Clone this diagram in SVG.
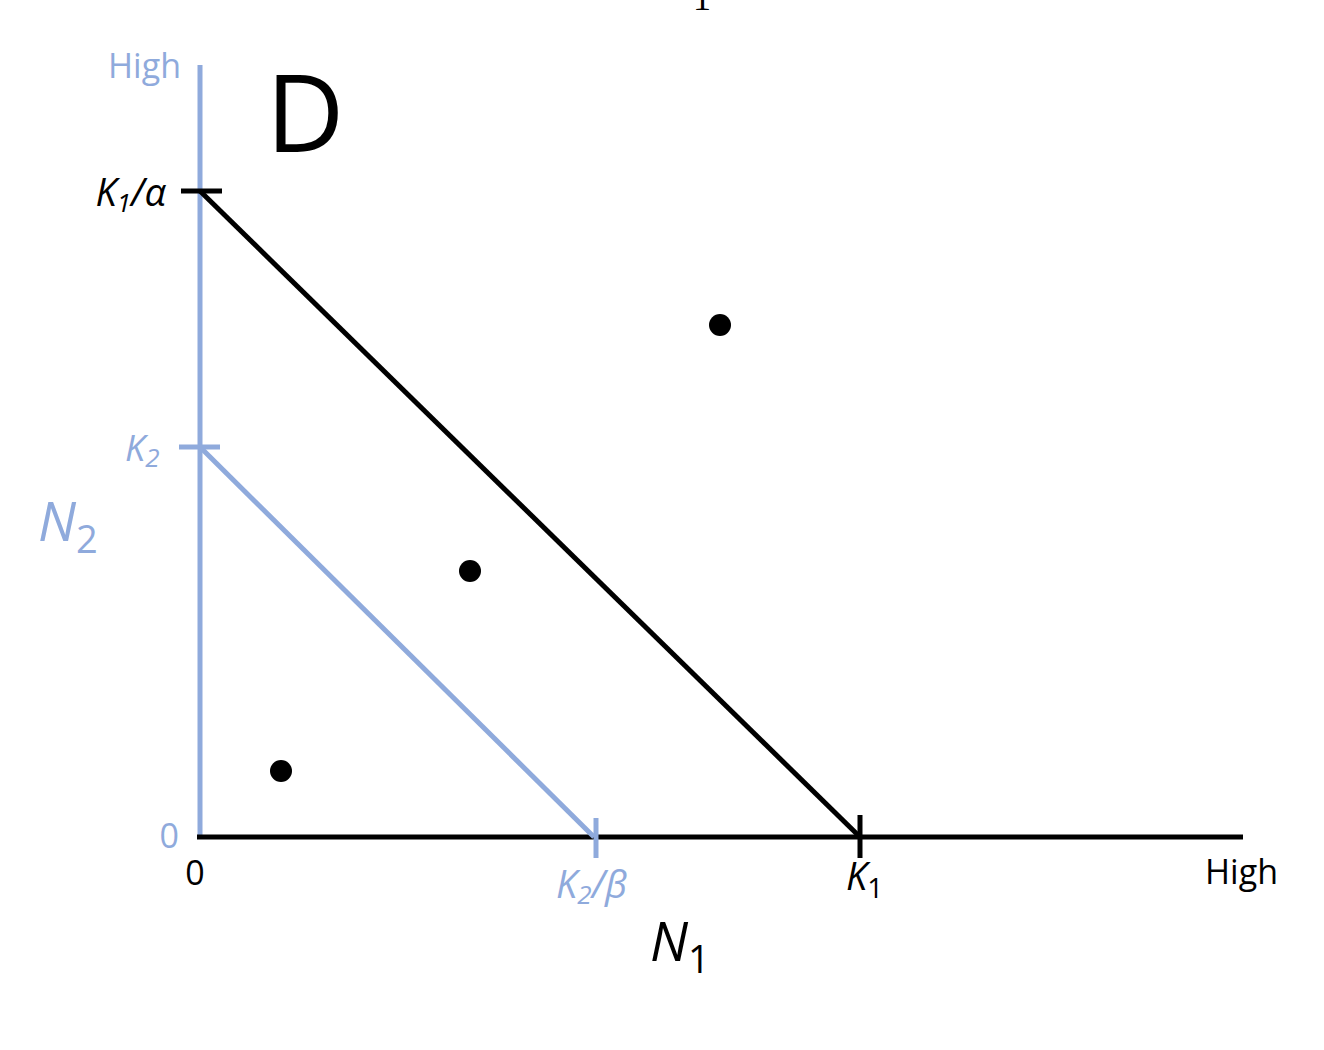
<svg xmlns="http://www.w3.org/2000/svg" width="1324" height="1050" viewBox="0 0 1324 1050">
<style>
text { font-family: "Open Sans", "Liberation Sans", sans-serif; }
.blue { fill: #8FAADC; }
.blk { fill: #000; }
.it { font-style: italic; }
.bl { stroke: #8FAADC; stroke-width: 5; fill: none; }
.bk { stroke: #000; stroke-width: 5; fill: none; }
</style>
<rect width="1324" height="1050" fill="#fff"/>
<text x="702" y="10" font-size="36" text-anchor="middle" class="blk" style="font-family:'Liberation Serif',serif">1</text>
<g id="axes">
  <line class="bl" x1="200" y1="65" x2="200" y2="839"/>
  <line class="bk" x1="197" y1="837" x2="1243" y2="837" stroke-width="6"/>
</g>
<g id="connectors">
  <line class="bk" x1="200" y1="191" x2="860" y2="837"/>
  <line class="bl" x1="200" y1="447" x2="594" y2="837"/>
</g>
<g id="ticks">
  <line class="bk" x1="181" y1="191" x2="222" y2="191"/>
  <line class="bk" x1="860" y1="815" x2="860" y2="858"/>
  <line class="bl" x1="179" y1="447" x2="220" y2="447"/>
  <line class="bl" x1="596" y1="818" x2="596" y2="858"/>
</g>
<g id="points">
  <circle cx="720" cy="325" r="11" fill="#000"/>
  <circle cx="470" cy="571" r="11" fill="#000"/>
  <circle cx="281" cy="771" r="11" fill="#000"/>
</g>
<g id="labels">
  <text x="181" y="78" font-size="34" text-anchor="end" class="blue">High</text>
  <text x="266" y="152" font-size="108" class="blk">D</text>
  <text x="166" y="206" font-size="38" text-anchor="end" class="blk it">K<tspan font-size="26" dy="6">1</tspan><tspan dy="-6">/α</tspan></text>
  <text x="125" y="461" font-size="36" class="blue it">K<tspan font-size="26" dy="6">2</tspan></text>
  <text x="38" y="541" font-size="54" class="blue it">N<tspan font-size="38" dy="12" font-style="normal">2</tspan></text>
  <text x="179" y="848" font-size="34" text-anchor="end" class="blue">0</text>
  <text x="195" y="885" font-size="34" text-anchor="middle" class="blk">0</text>
  <text x="556" y="898" font-size="38" class="blue it">K<tspan font-size="26" dy="6">2</tspan><tspan dy="-6">/β</tspan></text>
  <text x="846" y="890" font-size="38" class="blk it">K<tspan font-size="28" dy="8" font-style="normal">1</tspan></text>
  <text x="1278" y="884" font-size="34" text-anchor="end" class="blk">High</text>
  <text x="650" y="961" font-size="54" class="blk it">N<tspan font-size="38" dy="12" font-style="normal">1</tspan></text>
</g>
</svg>
